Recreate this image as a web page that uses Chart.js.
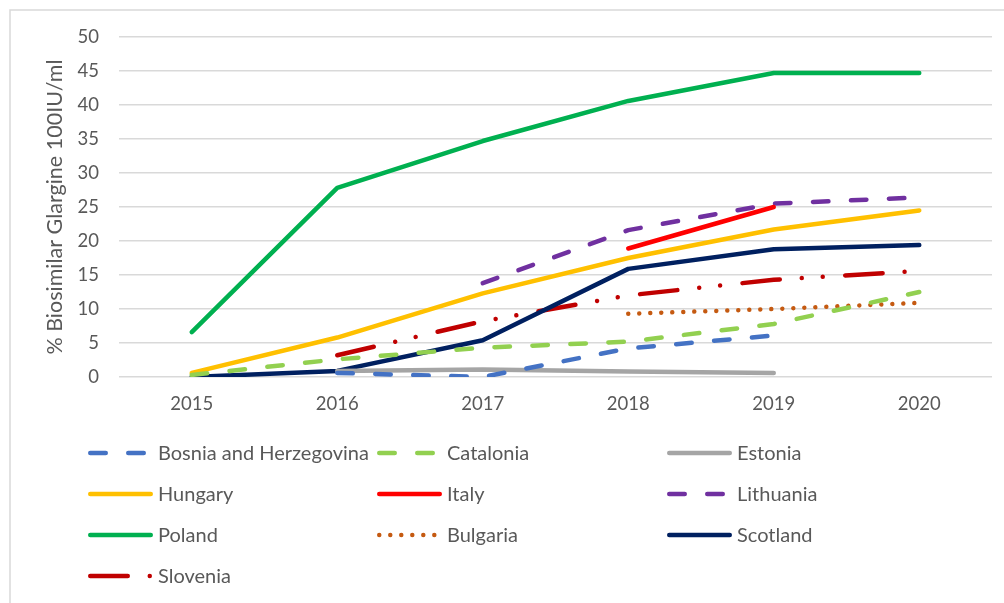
<!DOCTYPE html>
<html>
<head>
<meta charset="utf-8">
<script src="https://cdn.jsdelivr.net/npm/chart.js@4.4.1/dist/chart.umd.min.js"></script>
<style>
    html, body { margin: 0; padding: 0; background: #fff; }
    #wrap { width: 1004px; height: 603px; position: relative; }
</style>
</head>
<body>
<div id="wrap"><canvas id="glargineCanvas"></canvas></div>
<script>
// years on the x axis
const years = ['2015', '2016', '2017', '2018', '2019', '2020'];

// % biosimilar glargine 100IU/ml per country (null = no data)
const bosnia    = [null, 0.6, 0.0, 4.2, 6.1, null];
const catalonia = [0.3, 2.6, 4.3, 5.2, 7.8, 12.5];
const estonia   = [null, 0.9, 1.1, 0.8, 0.6, null];
const hungary   = [0.6, 5.8, 12.3, 17.5, 21.7, 24.5];
const italy     = [null, null, null, 18.9, 25.0, null];
const lithuania = [null, null, 13.8, 21.6, 25.5, 26.4];
const poland    = [6.6, 27.8, 34.7, 40.6, 44.7, 44.7];
const bulgaria  = [null, null, null, 9.3, 10.0, 10.9];
const scotland  = [0.0, 0.9, 5.4, 15.9, 18.8, 19.4];
const slovenia  = [null, 3.2, 8.2, 12.0, 14.3, 15.6];

const yTicks = [0, 5, 10, 15, 20, 25, 30, 35, 40, 45, 50];

const FONT = 'Lato';
const TEXT_GREY = '#595959';
const GRID_GREY = '#D9D9D9';

const DASH = [15.5, 22.5];
const DOT = [0.01, 11];
const LONG_DASH_DOT_DOT = [37.5, 22, 0.01, 21, 0.01, 22.5];

function makeSet(label, data, color, dash) {
    return {
        label: label,
        data: data,
        borderColor: color,
        backgroundColor: color,
        borderWidth: 4.5,
        borderDash: dash || [],
        borderCapStyle: 'round',
        borderJoinStyle: 'round',
        pointRadius: 0,
        pointHoverRadius: 0,
        tension: 0,
        spanGaps: false,
        fill: false
    };
}

const datasets = [
    makeSet('Bosnia and Herzegovina', bosnia, '#4472C4', DASH),
    makeSet('Catalonia', catalonia, '#92D050', DASH),
    makeSet('Estonia', estonia, '#A5A5A5'),
    makeSet('Hungary', hungary, '#FFC000'),
    makeSet('Italy', italy, '#FF0000'),
    makeSet('Lithuania', lithuania, '#7030A0', DASH),
    makeSet('Poland', poland, '#00B050'),
    makeSet('Bulgaria', bulgaria, '#C55A11', DOT),
    makeSet('Scotland', scotland, '#002060'),
    makeSet('Slovenia', slovenia, '#C00000', LONG_DASH_DOT_DOT)
];

// white background + the thin grey frame around the chart
const framePlugin = {
    id: 'frame',
    beforeDraw(chart) {
        const ctx = chart.ctx;
        ctx.save();
        ctx.fillStyle = '#fff';
        ctx.fillRect(0, 0, chart.width, chart.height);
        ctx.strokeStyle = GRID_GREY;
        ctx.lineWidth = 1.5;
        ctx.strokeRect(10, 10, chart.width + 20, chart.height + 20);
        ctx.restore();
    }
};

// legend laid out in a fixed 3 column grid like the original
const gridLegend = {
    id: 'gridLegend',
    afterDraw(chart) {
        const ctx = chart.ctx;
        const colX = [88, 377, 667];
        const rowY0 = 453;
        const rowStep = 41;
        const lineLen = 65;
        ctx.save();
        chart.data.datasets.forEach((ds, i) => {
            const x = colX[i % 3];
            const y = rowY0 + Math.floor(i / 3) * rowStep;
            ctx.beginPath();
            ctx.setLineDash(ds.borderDash);
            ctx.lineCap = 'round';
            ctx.lineWidth = 4.5;
            ctx.strokeStyle = ds.borderColor;
            ctx.moveTo(x + 2.25, y);
            ctx.lineTo(x + lineLen - 2.25, y);
            ctx.stroke();
            ctx.setLineDash([]);
            ctx.fillStyle = TEXT_GREY;
            ctx.font = '20px ' + FONT;
            ctx.textBaseline = 'middle';
            ctx.textAlign = 'left';
            ctx.fillText(ds.label, x + 70, y + 1);
        });
        ctx.restore();
    }
};

const ctx = document.getElementById('glargineCanvas').getContext('2d');

new Chart(ctx, {
    type: 'line',
    data: {
        labels: years,
        datasets: datasets
    },
    options: {
        responsive: true,
        maintainAspectRatio: false,
        animation: false,
        events: [],
        layout: {
            padding: { left: 0, top: 37, right: 12, bottom: 176 }
        },
        plugins: {
            legend: { display: false },
            tooltip: { enabled: false }
        },
        scales: {
            x: {
                offset: true,
                grid: { display: false, drawTicks: false },
                border: { display: false },
                ticks: {
                    color: TEXT_GREY,
                    font: { family: FONT, size: 18.5 },
                    padding: 16,
                    maxRotation: 0
                },
                afterFit(scale) { scale.height = 50; }
            },
            y: {
                min: 0,
                max: 50,
                grid: { color: GRID_GREY, lineWidth: 1.5, drawTicks: false },
                border: { display: false },
                afterBuildTicks(scale) {
                    scale.ticks = yTicks.map(v => ({ value: v }));
                },
                ticks: {
                    color: TEXT_GREY,
                    font: { family: FONT, size: 18.5 },
                    padding: 20
                },
                title: {
                    display: true,
                    text: '% Biosimilar Glargine 100IU/ml',
                    color: TEXT_GREY,
                    font: { family: FONT, size: 21.5, weight: 'normal' },
                    padding: { top: 42, bottom: 0 }
                },
                afterFit(scale) { scale.width = 119; }
            }
        }
    },
    plugins: [framePlugin, gridLegend]
});
</script>
</body>
</html>
